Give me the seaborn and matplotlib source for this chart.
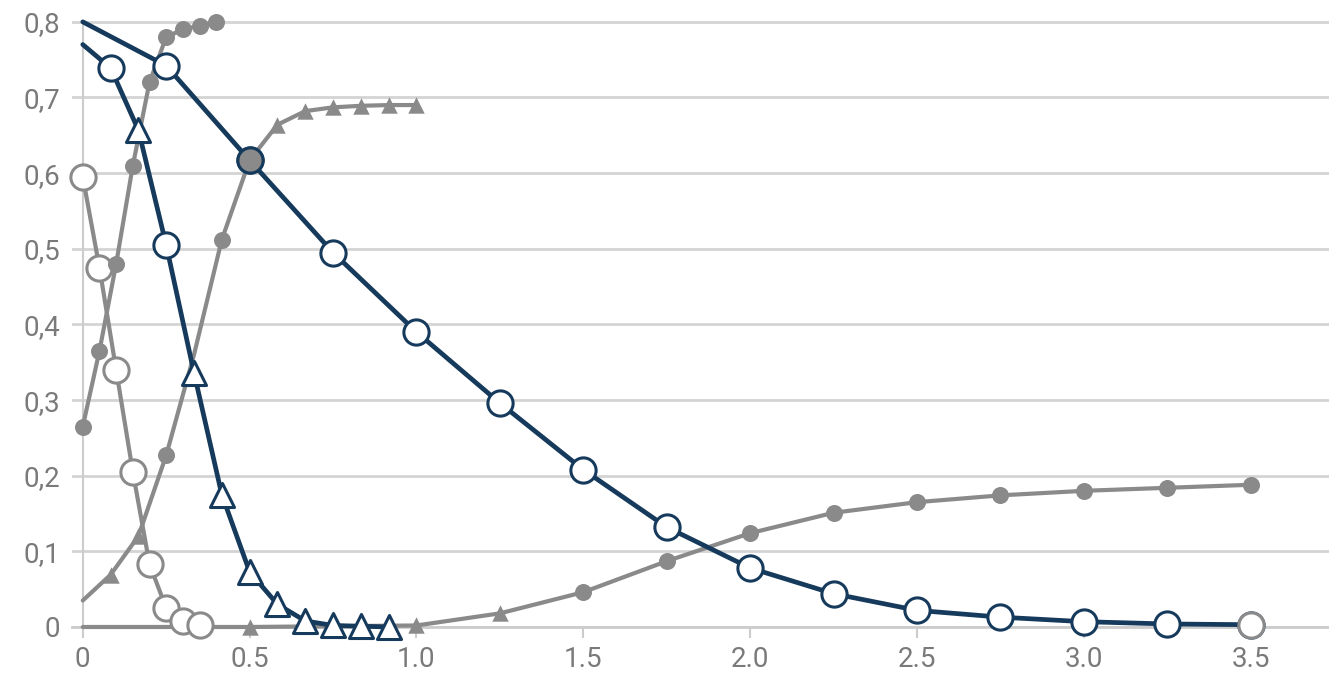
import numpy as np
import pandas as pd
import matplotlib
matplotlib.use("Agg")
import matplotlib.pyplot as plt
import seaborn as sns

# series
t_fine = [0, 0.05, 0.10, 0.15, 0.20, 0.25, 0.30, 0.35, 0.40]
a_vals = [0.265, 0.365, 0.48, 0.61, 0.72, 0.78, 0.79, 0.795, 0.80]
b_vals = [0.595, 0.475, 0.34, 0.205, 0.083, 0.025, 0.008, 0.002]

t_twelfth = [i / 12 for i in range(13)]
c_vals = [0.035, 0.069, 0.12, 0.227, 0.36, 0.512, 0.617, 0.664, 0.682, 0.687, 0.689, 0.69, 0.69]
d_vals = [0.77, 0.739, 0.657, 0.505, 0.336, 0.175, 0.073, 0.03, 0.008, 0.002, 0.001, 0.0]

t_quarter = [i * 0.25 for i in range(15)]
e_vals = [0.80, 0.742, 0.617, 0.495, 0.39, 0.296, 0.208, 0.132, 0.078, 0.044, 0.022, 0.013, 0.007, 0.004, 0.003]
f_vals = [0.0, 0.0, 0.0, 0.001, 0.002, 0.018, 0.046, 0.087, 0.124, 0.151, 0.165, 0.174, 0.18, 0.184, 0.188]

# marker kind per point: '' none (hidden), 'o' circle, '^' triangle
c_marks = ["", "^", "^", "o", "", "o", "o", "^", "^", "^", "^", "^", "^"]
d_marks = ["", "o", "^", "o", "^", "^", "^", "^", "^", "^", "^", "^"]
e_marks = [""] + ["o"] * 14
f_marks = ["", "", "^", "", "^", "^"] + ["o"] * 9

x_ticks = [0, 0.5, 1.0, 1.5, 2.0, 2.5, 3.0, 3.5]
x_labels = ["0", "0.5", "1.0", "1.5", "2.0", "2.5", "3.0", "3.5"]
y_ticks = [0, 0.1, 0.2, 0.3, 0.4, 0.5, 0.6, 0.7, 0.8]
y_labels = ["0", "0,1", "0,2", "0,3", "0,4", "0,5", "0,6", "0,7", "0,8"]

navy = "#163a5c"
grey = "#8a8a8a"

sns.set_theme(style="white")
plt.rcParams["font.family"] = ["Roboto", "DejaVu Sans"]

fig = plt.figure(figsize=(13.29, 6.85), dpi=100)
ax = fig.add_axes([0.054, 0.0847, 0.946, 0.911])


def frame(t, v, m=None):
    df = pd.DataFrame({"t": t[:len(v)], "v": v})
    df["m"] = m if m is not None else "o"
    return df


A = frame(t_fine, a_vals)
B = frame(t_fine, b_vals)
C = frame(t_twelfth, c_vals, c_marks)
D = frame(t_twelfth, d_vals, d_marks)
E = frame(t_quarter, e_vals, e_marks)
F = frame(t_quarter, f_vals, f_marks)

# lines
for df, col, lw in [(F, grey, 3.0), (C, grey, 3.0), (A, grey, 3.0), (B, grey, 3.0),
                    (E, navy, 3.4), (D, navy, 3.4)]:
    sns.lineplot(data=df, x="t", y="v", color=col, lw=lw, ax=ax, clip_on=False,
                 estimator=None, sort=False, zorder=3)

# open markers on the navy curves and the grey falling curve
for df, edge in [(E, navy), (D, navy)]:
    for mk, ms in [("o", 330), ("^", 300)]:
        sub = df[df["m"] == mk]
        if len(sub):
            sns.scatterplot(data=sub, x="t", y="v", marker=mk, s=ms, color="white",
                            edgecolor=edge, linewidth=2.2, ax=ax, clip_on=False, zorder=5)
# where a grey dot sits on a navy circle the circle reads as filled grey
sns.scatterplot(data=E.iloc[[2]], x="t", y="v", marker="o", s=330, color=grey,
                edgecolor=navy, linewidth=2.2, ax=ax, clip_on=False, zorder=7)
sns.scatterplot(data=E.iloc[[-1]], x="t", y="v", marker="o", s=330, color="white",
                edgecolor=grey, linewidth=2.2, ax=ax, clip_on=False, zorder=5)
sns.scatterplot(data=B, x="t", y="v", marker="o", s=330, color="white",
                edgecolor=grey, linewidth=2.2, ax=ax, clip_on=False, zorder=5)

# filled grey markers
sns.scatterplot(data=A, x="t", y="v", marker="o", s=150, color=grey,
                edgecolor=grey, linewidth=0, ax=ax, clip_on=False, zorder=6)
for df in [C, F]:
    for mk, ms in [("o", 150), ("^", 140)]:
        sub = df[df["m"] == mk]
        sns.scatterplot(data=sub, x="t", y="v", marker=mk, s=ms, color=grey,
                        edgecolor=grey, linewidth=0, ax=ax, clip_on=False, zorder=6)

ax.set_xlim(-0.033, 3.735)
ax.set_ylim(0, 0.825)
ax.set_xticks(x_ticks)
ax.set_xticklabels(x_labels)
ax.set_yticks(y_ticks)
ax.set_yticklabels(y_labels)
ax.set_xlabel("")
ax.set_ylabel("")

ax.yaxis.grid(True, color="#d4d4d4", lw=2)
ax.xaxis.grid(False)
for s in ["top", "right"]:
    ax.spines[s].set_visible(False)
ax.spines["left"].set_position(("data", 0))
ax.spines["left"].set_bounds(0, 0.8)
ax.spines["left"].set_color("#cccccc")
ax.spines["left"].set_linewidth(1.5)
ax.spines["bottom"].set_color("#cccccc")
ax.spines["bottom"].set_linewidth(2)

ax.tick_params(axis="x", length=8, width=1.5, color="#cccccc", pad=6,
               labelsize=20, labelcolor="#7a7a7a", bottom=True)
ax.tick_params(axis="y", length=0, pad=16, labelsize=20, labelcolor="#7a7a7a")

fig.savefig("out.png", dpi=100)
